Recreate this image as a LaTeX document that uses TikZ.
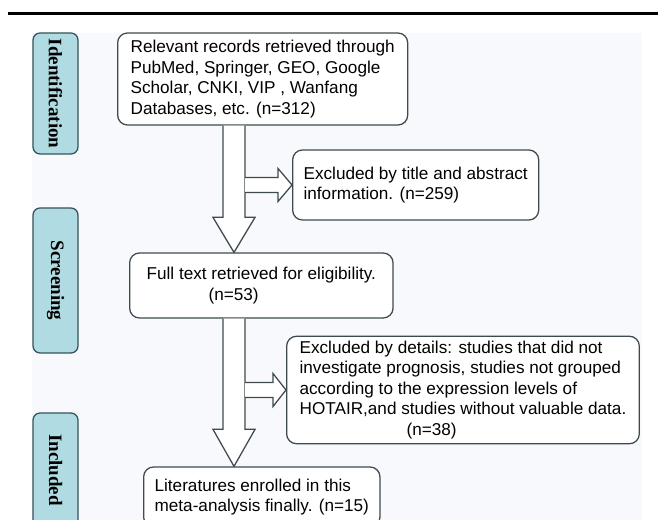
\documentclass[tikz,border=0pt]{standalone}
\usepackage{fontspec}
\setmainfont{Liberation Sans}
\newfontfamily\stagefont{Liberation Serif}
\usetikzlibrary{calc,positioning}
\definecolor{boxline}{RGB}{62,74,78}
\definecolor{stagefill}{RGB}{176,219,226}
\definecolor{stageline}{RGB}{52,84,88}
\definecolor{panel}{RGB}{248,249,252}

\begin{document}
\begin{tikzpicture}[
  font=\fontsize{12.2}{14.6}\selectfont,
  box/.style={draw=boxline, line width=0.9pt, rounded corners=7pt, fill=white, align=left, anchor=west},
  stage/.style={draw=stageline, line width=0.9pt, rounded corners=5pt, fill=stagefill, rotate=-90, minimum height=11.25mm, font=\stagefont\bfseries\fontsize{13.5}{16}\selectfont},
  hollow/.style={draw=boxline, line width=0.9pt, fill=white, line join=miter}
]
\useasboundingbox (0,0) rectangle (16.45,-13);
\fill[panel] (0.8,-0.825) rectangle (16.05,-13);
\draw[line width=2.2pt] (0.2,-0.3375) -- (16.45,-0.3375);

% stage labels on the left
\node[stage, minimum width=30.25mm] (ident) at (1.3875,-2.3375) {Identification};
\node[stage, minimum width=36.25mm] (screen) at (1.3875,-7.0125) {Screening};
\node[stage, minimum width=28.5mm] (incl) at (1.3875,-11.75) {Included};

% flow boxes
\node[box, inner xsep=3.25mm, minimum height=23mm] (rec) at (2.925,-1.975)
  {Relevant records retrieved through\\PubMed, Springer, GEO, Google\\Scholar, CNKI, VIP , Wanfang\\Databases, etc. (n=312)};
\node[box, inner xsep=2.75mm, minimum height=17.5mm] (title) at (7.3,-4.625)
  {Excluded by title and abstract\\information. (n=259)};
\node[box, inner xsep=4.25mm, minimum height=16.25mm] (full) at (3.225,-7.1375)
  {Full text retrieved for eligibility.\\\hspace*{15.5mm}(n=53)};
\node[box, inner xsep=3.25mm, minimum height=26mm] (det) at (7.15,-9.75)
  {Excluded by details: studies that did not\\investigate prognosis, studies not grouped\\according to the expression levels of\\HOTAIR,and studies without valuable data.\\\hspace*{26.75mm}(n=38)};
\node[box, inner xsep=2.75mm, minimum height=15mm] (final) at (3.575,-12.425)
  {Literatures enrolled in this\\meta-analysis finally. (n=15)};

% block arrows
\coordinate (spine) at (5.85,0);
\coordinate (t1) at (spine |- rec.south);
\coordinate (b1) at (spine |- full.north);
\coordinate (t2) at (spine |- full.south);
\coordinate (b2) at (spine |- final.north);
\coordinate (s1) at ($(spine |- title.west)+(0.275,0)$);
\coordinate (s2) at ($(spine |- det.west)+(0.275,0)$);

\draw[hollow] ($(t1)+(-0.275,0)$) -- ($(b1)+(-0.275,0.875)$) -- ($(b1)+(-0.525,0.875)$) -- (b1)
  -- ($(b1)+(0.525,0.875)$) -- ($(b1)+(0.275,0.875)$) -- ($(t1)+(0.275,0)$);
\draw[hollow] ($(t2)+(-0.275,0)$) -- ($(b2)+(-0.275,0.925)$) -- ($(b2)+(-0.525,0.925)$) -- (b2)
  -- ($(b2)+(0.525,0.925)$) -- ($(b2)+(0.275,0.925)$) -- ($(t2)+(0.275,0)$);

\draw[hollow] ($(s1)+(0,0.1875)$) -- ($(title.west)+(-0.35,0.1875)$) -- ($(title.west)+(-0.35,0.4125)$) -- (title.west)
  -- ($(title.west)+(-0.35,-0.4125)$) -- ($(title.west)+(-0.35,-0.1875)$) -- ($(s1)+(0,-0.1875)$);
\draw[hollow] ($(s2)+(0,0.1875)$) -- ($(det.west)+(-0.325,0.1875)$) -- ($(det.west)+(-0.325,0.4125)$) -- (det.west)
  -- ($(det.west)+(-0.325,-0.4125)$) -- ($(det.west)+(-0.325,-0.1875)$) -- ($(s2)+(0,-0.1875)$);

\end{tikzpicture}
\end{document}
